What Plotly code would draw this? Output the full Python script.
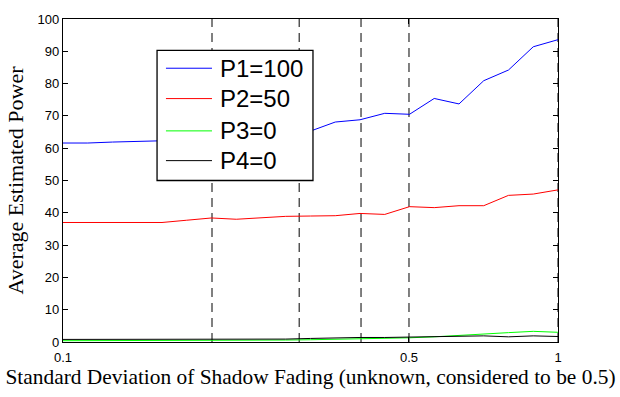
import plotly.graph_objects as go

# Standard deviation of shadow fading (log-spaced samples)
sigma = [0.1, 0.1122, 0.1259, 0.1413, 0.1585, 0.1778, 0.1995, 0.2239, 0.2512, 0.2818,
         0.3162, 0.3548, 0.3981, 0.4467, 0.5012, 0.5623, 0.6310, 0.7079, 0.7943, 0.8913, 1.0]

# Average estimated power for each source
p1 = [61.6, 61.6, 61.9, 62.0, 62.3, 62.8, 63.2, 63.6, 64.1, 64.6,
      65.3, 68.1, 68.8, 70.8, 70.5, 75.4, 73.7, 80.9, 84.2, 91.4, 93.6]
p2 = [37.0, 37.0, 37.0, 37.0, 37.0, 37.7, 38.4, 38.0, 38.4, 38.9,
      39.0, 39.1, 39.8, 39.5, 41.9, 41.6, 42.2, 42.2, 45.4, 45.8, 47.1]
p3 = [0.4, 0.4, 0.4, 0.4, 0.4, 0.4, 0.4, 0.4, 0.5, 0.6,
      0.7, 0.8, 1.0, 1.1, 1.3, 1.6, 2.1, 2.6, 2.9, 3.3, 3.0]
p4 = [0.8, 0.8, 0.8, 0.8, 0.8, 0.8, 0.8, 0.8, 0.8, 0.9,
      1.1, 1.3, 1.4, 1.4, 1.5, 1.5, 1.6, 1.9, 1.6, 1.9, 1.7]

series_names = ["P1=100", "P2=50", "P3=0", "P4=0"]
series_values = [p1, p2, p3, p4]
series_colors = ["#0000ff", "#ff0000", "#00ff00", "#000000"]

# Reference sigma values marked with dashed verticals
marker_sigmas = [0.2, 0.3, 0.4, 0.5, 1.0]

x_ticks = [0.1, 0.5, 1]
x_tick_text = ["0.1", "0.5", "1"]
y_ticks = list(range(0, 101, 10))

fig = go.Figure()

for xs in marker_sigmas:
    fig.add_trace(go.Scatter(
        x=[xs, xs], y=[0, 100], mode="lines",
        line=dict(color="black", width=1, dash="9px,6px"),
        showlegend=False, hoverinfo="skip"))

for name, vals, col in zip(series_names, series_values, series_colors):
    fig.add_trace(go.Scatter(
        x=sigma, y=vals, mode="lines", name=name,
        line=dict(color=col, width=1), showlegend=False))

# Boxed legend drawn over the data area
leg_x0, leg_x1, leg_y0, leg_y1 = 0.19, 0.505, 0.50, 0.903
shapes = [dict(type="rect", xref="paper", yref="paper",
               x0=leg_x0, x1=leg_x1, y0=leg_y0, y1=leg_y1,
               fillcolor="white", line=dict(color="black", width=1.3), layer="above")]
annotations = []
entry_y = [0.8476, 0.7536, 0.6536, 0.5615]
for name, col, ey in zip(series_names, series_colors, entry_y):
    shapes.append(dict(type="line", xref="paper", yref="paper",
                       x0=0.208, x1=0.301, y0=ey, y1=ey,
                       line=dict(color=col, width=1), layer="above"))
    annotations.append(dict(xref="paper", yref="paper", x=0.3125, y=ey,
                            xanchor="left", yanchor="middle", showarrow=False,
                            text=name, font=dict(family="Liberation Sans", size=24, color="black")))

fig.update_layout(
    width=620, height=397,
    margin=dict(l=63, r=62, t=13, b=54),
    paper_bgcolor="white", plot_bgcolor="white",
    shapes=shapes, annotations=annotations,
    font=dict(family="Liberation Sans", size=13, color="black"),
    showlegend=False,
)

fig.update_xaxes(
    type="log", range=[-1, 0],
    tickvals=x_ticks, ticktext=x_tick_text,
    ticks="inside", ticklen=5, tickcolor="black", ticklabelstandoff=3,
    showline=True, linecolor="black", linewidth=1.3, mirror="ticks",
    showgrid=False, zeroline=False,
    tickfont=dict(family="Liberation Sans", size=13),
    title=dict(text="Standard Deviation of Shadow Fading (unknown, considered to be 0.5)",
               font=dict(family="Liberation Serif", size=21.4), standoff=5),
)
fig.update_yaxes(
    range=[0, 100], tickvals=y_ticks,
    ticks="inside", ticklen=5, tickcolor="black",
    showline=True, linecolor="black", linewidth=1.3, mirror="ticks",
    showgrid=False, zeroline=False,
    tickfont=dict(family="Liberation Sans", size=13),
    title=dict(text="Average Estimated Power",
               font=dict(family="Liberation Serif", size=22), standoff=7),
)

fig.write_html("out.html")
